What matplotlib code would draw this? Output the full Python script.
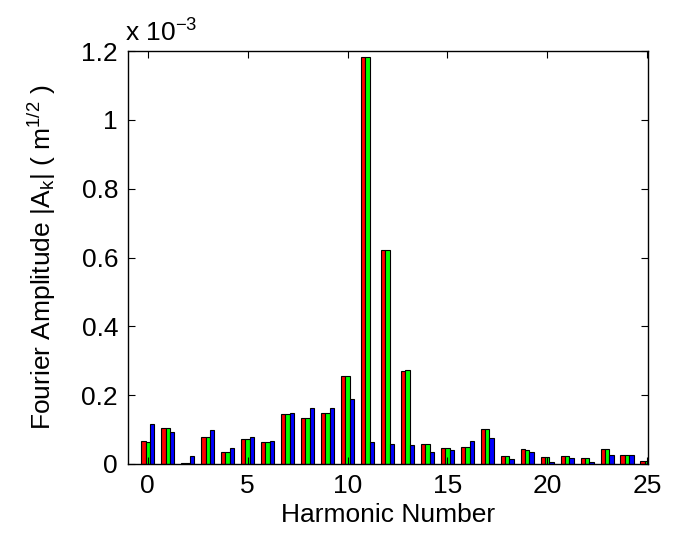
import matplotlib
matplotlib.use('Agg')
import matplotlib.pyplot as plt
import numpy as np

plt.rcParams['font.family'] = ['Liberation Sans', 'DejaVu Sans']
plt.rcParams['mathtext.fontset'] = 'custom'
plt.rcParams['mathtext.rm'] = 'Liberation Sans'
plt.rcParams['mathtext.it'] = 'Liberation Sans'

# harmonic numbers and amplitudes (units of 1e-3 m^1/2)
harmonic = np.arange(26)
amp_red = [0.067, 0.104, 0.002, 0.078, 0.035, 0.073, 0.065, 0.146, 0.134, 0.149,
           0.257, 1.184, 0.621, 0.271, 0.058, 0.047, 0.049, 0.102, 0.022, 0.043,
           0.021, 0.024, 0.017, 0.044, 0.025, 0.009]
amp_green = [0.065, 0.104, 0.002, 0.077, 0.035, 0.073, 0.064, 0.146, 0.134, 0.147,
             0.257, 1.183, 0.623, 0.272, 0.058, 0.046, 0.049, 0.102, 0.022, 0.042,
             0.020, 0.023, 0.017, 0.043, 0.025, 0.008]
amp_blue = [0.115, 0.093, 0.024, 0.098, 0.047, 0.078, 0.068, 0.148, 0.162, 0.162,
            0.190, 0.064, 0.058, 0.055, 0.035, 0.040, 0.068, 0.075, 0.015, 0.035,
            0.007, 0.017, 0.006, 0.027, 0.026, 0.008]

fig = plt.figure(figsize=(6.8, 5.33), dpi=100)
ax = fig.add_axes([0.188, 0.1295, 0.765, 0.7745])

w = 0.22
for off, vals, col in [(-w, amp_red, '#ff0000'), (0, amp_green, '#00ff00'), (w, amp_blue, '#0000ff')]:
    ax.bar(harmonic + off, vals, width=w, color=col, edgecolor='black', linewidth=0.8)

ax.set_xlim(-1, 25.05)
ax.set_ylim(0, 1.2)
ax.set_xticks([0, 5, 10, 15, 20, 25])
ax.set_yticks([0, 0.2, 0.4, 0.6, 0.8, 1.0, 1.2])
ax.set_yticklabels(['0', '0.2', '0.4', '0.6', '0.8', '1', '1.2'])
ax.tick_params(direction='in', top=True, right=True, length=5, width=0.8, labelsize=19, pad=7)
for s in ax.spines.values():
    s.set_linewidth(1.0)

ax.set_xlabel('Harmonic Number', fontsize=19, labelpad=4)
ax.set_ylabel(r'Fourier Amplitude |A$_{\mathrm{k}}$| ( m$^{\mathrm{1/2}}$ )', fontsize=19, labelpad=17)
ax.text(-0.005, 1.01, r'x 10$^{\mathrm{-3}}$', transform=ax.transAxes, fontsize=19,
        ha='left', va='bottom')

fig.savefig('out.png', dpi=100)
